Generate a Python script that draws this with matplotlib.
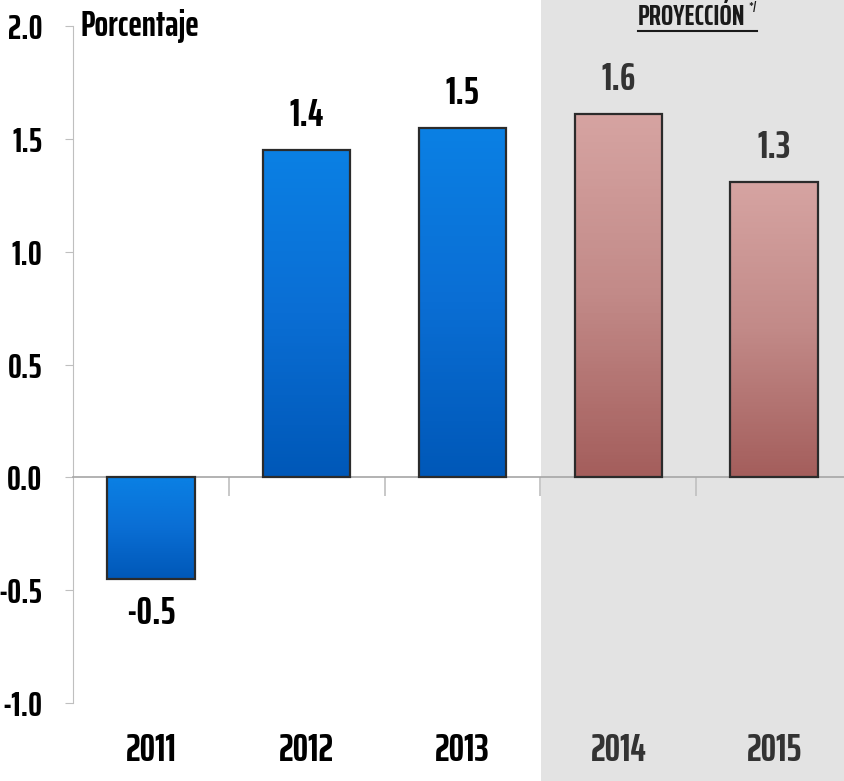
import numpy as np
import matplotlib
matplotlib.use("Agg")
import matplotlib.pyplot as plt
from matplotlib.colors import LinearSegmentedColormap
from matplotlib.patches import Rectangle
from matplotlib.lines import Line2D

years = ["2011", "2012", "2013", "2014", "2015"]
values = [-0.45, 1.45, 1.55, 1.61, 1.31]
labels = ["-0.5", "1.4", "1.5", "1.6", "1.3"]
projected = [False, False, False, True, True]

plt.rcParams['font.family'] = ['Saira ExtraCondensed', 'DejaVu Sans']
plt.rcParams['font.weight'] = 'bold'

fig = plt.figure(figsize=(8.44, 7.81), dpi=100)
# gray background for projection years, full figure height
fig.patches.append(Rectangle((541 / 844, 0), 1, 1, transform=fig.transFigure,
                             facecolor='#e3e3e3', edgecolor='none', zorder=-5))

ax = fig.add_axes([73 / 844, 1 - 703 / 781, 779 / 844, 677 / 781])
ax.patch.set_alpha(0)

blue_cm = LinearSegmentedColormap.from_list('b', ['#0058b8', '#0a6ed4', '#0a80e4'])
red_cm = LinearSegmentedColormap.from_list('r', ['#a45e5c', '#c28a88', '#d6a4a2'])

x = np.arange(len(years)) + 0.5
w = 0.56
bars = ax.bar(x, values, width=w, facecolor='none', edgecolor='#2b2b2b', linewidth=1.6, zorder=3)
grad = np.linspace(0, 1, 100).reshape(-1, 1)
for b, v, p in zip(bars, values, projected):
    cm = red_cm if p else blue_cm
    x0 = b.get_x()
    y0, y1 = min(0, v), max(0, v)
    im = ax.imshow(grad, cmap=cm, aspect='auto', origin='lower',
                   extent=[x0, x0 + w, y0, y1], zorder=2)
    im.set_clip_path(b)
ax.set_xlim(0, len(years))
ax.set_ylim(-1.0, 2.0)

# value labels
for xi, v, lab, p in zip(x, values, labels, projected):
    col = '#333333' if p else 'black'
    if v >= 0:
        ax.text(xi, v + 0.07, lab, ha='center', va='bottom', fontsize=28, color=col)
    else:
        ax.text(xi, v - 0.07, lab, ha='center', va='top', fontsize=28, color=col)

# year labels under the plot
for xi, yr, p in zip(x, years, projected):
    ax.text(xi, -1.21, yr, ha='center', va='center', fontsize=28,
            color='#333333' if p else 'black')

# axes styling
for s in ['top', 'right']:
    ax.spines[s].set_visible(False)
ax.spines['left'].set_color('#bfbfbf')
ax.spines['bottom'].set_position(('data', 0))
ax.spines['bottom'].set_color('#a6a6a6')
ax.spines['bottom'].set_linewidth(1.2)
ax.set_xticks(np.arange(1, len(years)))
ax.set_xticklabels([])
ax.tick_params(axis='x', direction='out', length=14, color='#bfbfbf', width=1.2)

yt = [-1.0, -0.5, 0.0, 0.5, 1.0, 1.5, 2.0]
ax.set_yticks(yt)
ax.set_yticklabels(["%.1f" % t for t in yt])
ax.tick_params(axis='y', direction='out', length=6, color='#bfbfbf', pad=16, labelsize=25)

ax.text(0.05, 2.0, "Porcentaje", ha='left', va='center', fontsize=26)

# projection header, underlined
fig.text(638 / 844, 1 - 17 / 781, "PROYECCIÓN", ha='left', va='center',
         fontsize=21, color='#1a1a1a')
fig.text(757 / 844, 1 - 8 / 781, "*/", ha='right', va='center', fontsize=9,
         color='#1a1a1a')
fig.lines.append(Line2D([638 / 844, 757 / 844], [1 - 31 / 781, 1 - 31 / 781],
                        transform=fig.transFigure, color='#1a1a1a', linewidth=1.5))

plt.savefig("out.png", dpi=100)
